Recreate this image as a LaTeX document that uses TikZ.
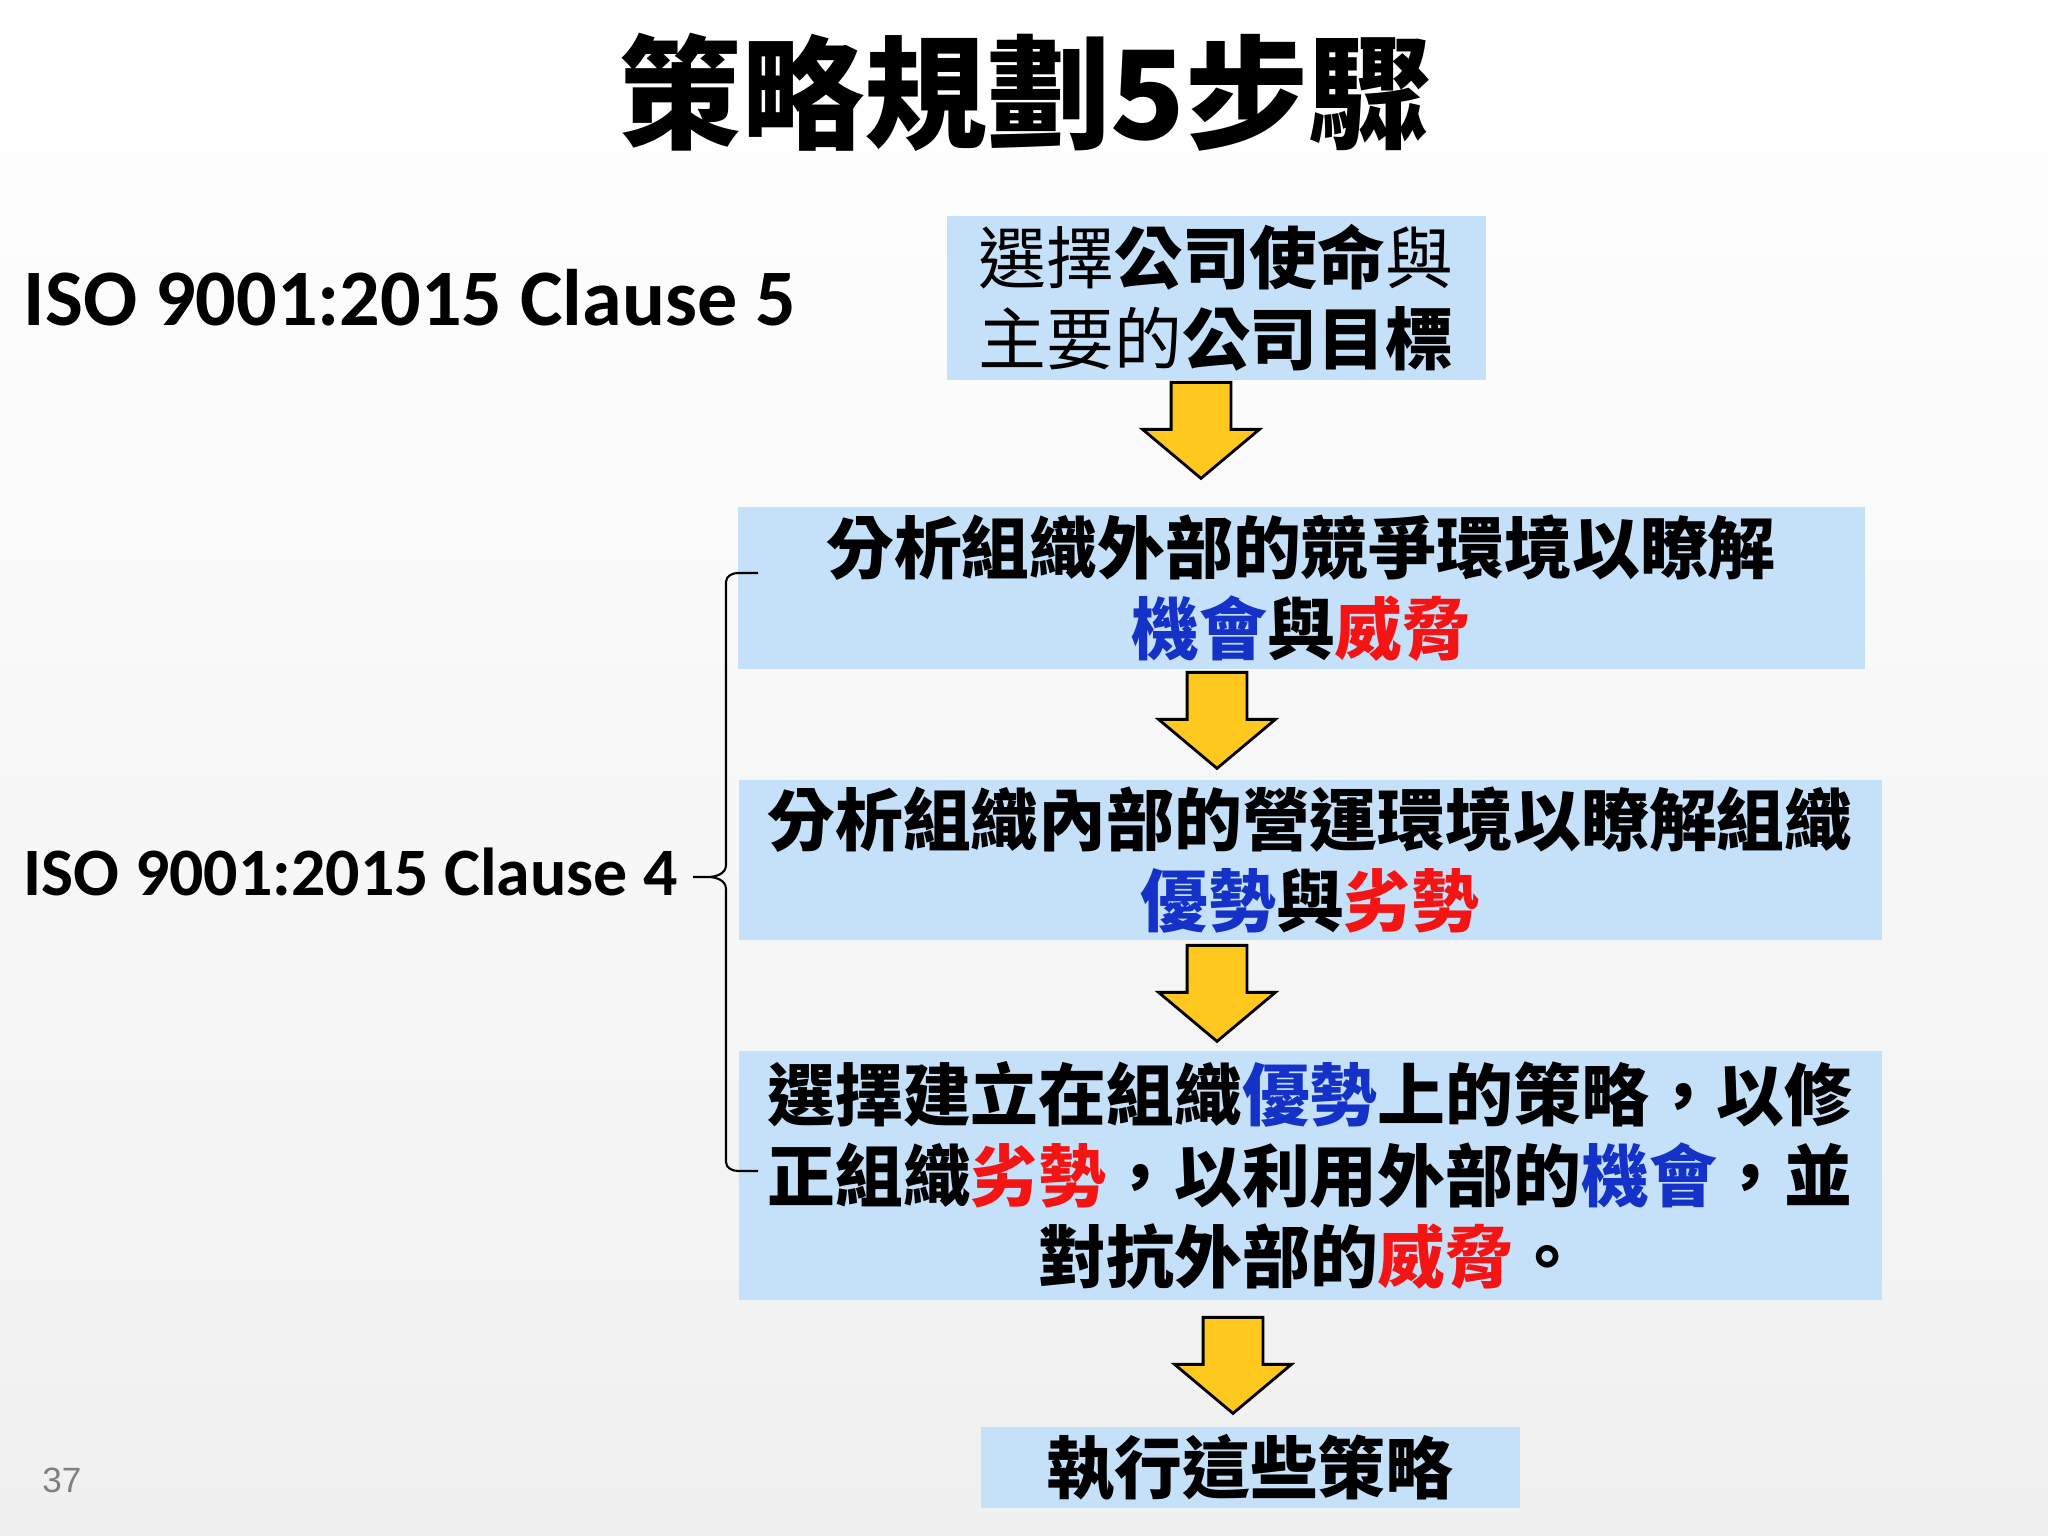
\documentclass[tikz,border=0pt]{standalone}
\usepackage{fontspec}
\usetikzlibrary{positioning,shapes.arrows}

\newfontfamily\cjk{Noto Sans CJK TC}
\newfontfamily\clausefont{Carlito}
\newfontfamily\pagefont{Liberation Sans}

\definecolor{boxblue}{RGB}{197,225,250}
\definecolor{arrowyellow}{RGB}{255,200,30}
\definecolor{kwblue}{RGB}{20,50,200}
\definecolor{kwred}{RGB}{245,20,20}
\definecolor{bggray}{RGB}{240,240,240}
\definecolor{pagegray}{RGB}{128,128,128}

\newcommand{\kwb}[1]{\textcolor{kwblue}{#1}}
\newcommand{\kwr}[1]{\textcolor{kwred}{#1}}
\newcommand{\lite}[1]{{\mdseries #1}}

\begin{document}
\begin{tikzpicture}[auto, node distance=2.9cm]

% Styles
\tikzstyle{stepbox} = [fill=boxblue, align=center, inner sep=0pt, font=\cjk\bfseries\fontsize{19.3}{23.1}\selectfont]
\tikzstyle{bigarrow} = [single arrow, draw=black, line width=0.8pt, fill=arrowyellow, rotate=-90, anchor=tail, minimum height=0.96cm, inner xsep=0pt, inner ysep=0.285cm, single arrow head extend=0.285cm, single arrow tip angle=100]
\tikzstyle{clause} = [anchor=west, inner sep=0pt, font=\clausefont\bfseries]

% Background
\shade [top color=white, bottom color=bggray] (0,0) rectangle (20.48,15.36);
\useasboundingbox (0,0) rectangle (20.48,15.36);

% Title
\node [font=\cjk\bfseries\fontsize{35}{42}\selectfont] (title) at (10.25,14.44) {策略規劃5步驟};

% Steps
\node [stepbox, minimum width=5.39cm, minimum height=1.64cm] (mission) at (12.16,12.38)
  {\lite{選擇}公司使命\lite{與}\\\lite{主要的}公司目標};
\node [stepbox, below of=mission, xshift=0.85cm, minimum width=11.27cm, minimum height=1.62cm] (external)
  {分析組織外部的競爭環境以瞭解\\\kwb{機會}與\kwr{威脅}};
\node [stepbox, below of=external, node distance=2.72cm, xshift=0.09cm, minimum width=11.43cm, minimum height=1.60cm] (internal)
  {分析組織內部的營運環境以瞭解組織\\\kwb{優勢}與\kwr{劣勢}};
\node [stepbox, below of=internal, node distance=3.155cm, minimum width=11.43cm, minimum height=2.49cm] (choose)
  {選擇建立在組織\kwb{優勢}上的策略，以修\\正組織\kwr{劣勢}，以利用外部的\kwb{機會}，並\\對抗外部的\kwr{威脅}。};
\node [stepbox, below of=choose, node distance=2.92cm, xshift=-0.60cm, minimum width=5.39cm, minimum height=0.81cm] (execute)
  {執行這些策略};

% Block arrows
\node [bigarrow] (arr1) at (12.01,11.55) {};
\node [bigarrow] (arr2) at (12.17,8.65) {};
\node [bigarrow] (arr3) at (12.17,5.92) {};
\node [bigarrow] (arr4) at (12.33,2.20) {};

% Clause labels
\node [clause, font=\clausefont\bfseries\fontsize{22.8}{27}\selectfont] (clause5) at (0.23,12.38) {ISO 9001:2015 Clause 5};
\node [clause, font=\clausefont\bfseries\fontsize{19.3}{23}\selectfont] (clause4) at (0.23,6.64) {ISO 9001:2015 Clause 4};

% Brace
\coordinate (brtop) at (7.58,9.63);
\coordinate (brbot) at (7.58,3.65);
\coordinate (brtip) at (6.93,6.59);
\draw [line width=0.6pt] (brtop) -- ++(-0.20,0) to[out=180,in=90] ++(-0.12,-0.09)
  -- (7.26,6.71) to[out=-90,in=0] (7.08,6.59) -- (brtip)
  (7.08,6.59) to[out=0,in=90] (7.26,6.47)
  -- (7.26,3.74) to[out=-90,in=180] ++(0.12,-0.09) -- (brbot);

% Page number
\node [font=\pagefont\fontsize{10}{12}\selectfont, text=pagegray] (pagenum) at (0.62,0.56) {37};

\end{tikzpicture}
\end{document}
